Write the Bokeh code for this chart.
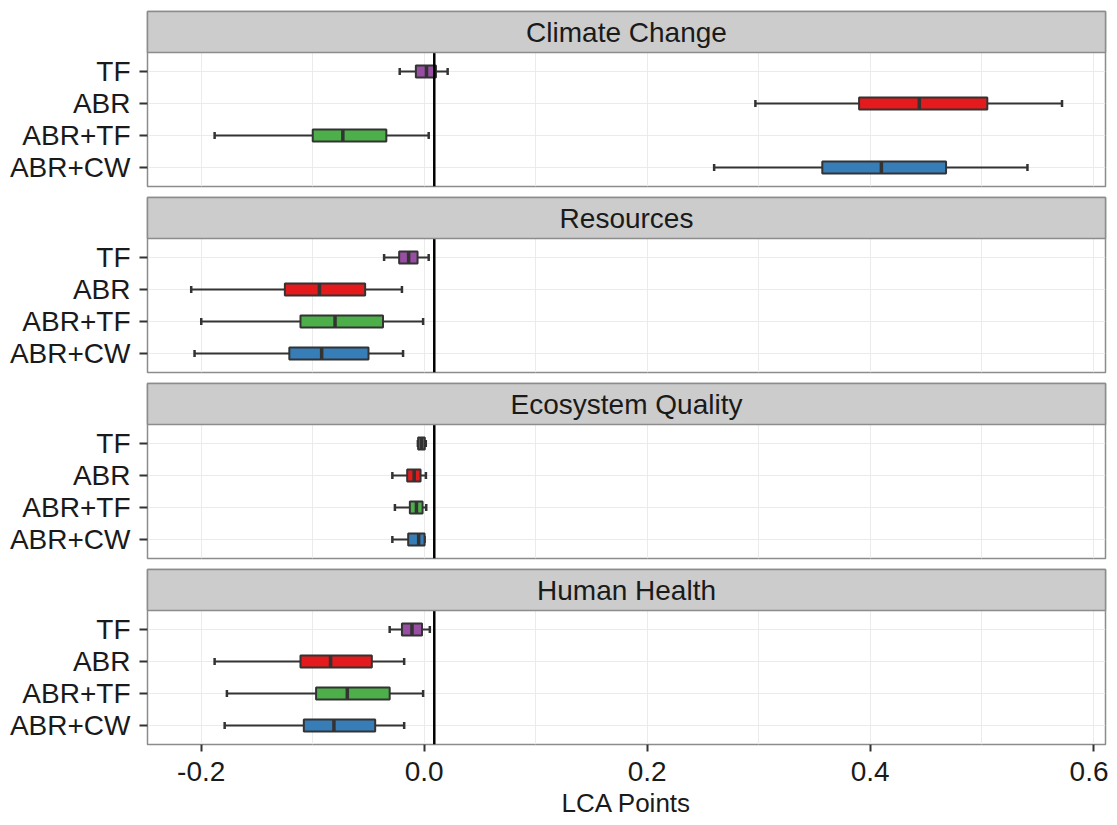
from bokeh.plotting import figure
from bokeh.models import Range1d, FixedTicker, Span, ColumnDataSource
from bokeh.layouts import column
from bokeh.transform import dodge
from bokeh.embed import file_html
from bokeh.resources import INLINE
from bokeh.core.properties import value

# ---------------- data ----------------
treatments = ["TF", "ABR", "ABR+TF", "ABR+CW"]
rows = [3, 2, 1, 0]
colors = ["#984EA3", "#E41A1C", "#4DAF4A", "#377EB8"]
facets = ["Climate Change", "Resources", "Ecosystem Quality", "Human Health"]

cc_lo = [-0.022, 0.297, -0.188, 0.260]
cc_q1 = [-0.0075, 0.390, -0.100, 0.357]
cc_med = [0.002, 0.444, -0.073, 0.410]
cc_q3 = [0.0105, 0.505, -0.034, 0.468]
cc_hi = [0.021, 0.572, 0.004, 0.541]

res_lo = [-0.036, -0.209, -0.200, -0.206]
res_q1 = [-0.0225, -0.125, -0.111, -0.121]
res_med = [-0.014, -0.094, -0.080, -0.092]
res_q3 = [-0.006, -0.053, -0.037, -0.050]
res_hi = [0.004, -0.020, -0.001, -0.019]

eco_lo = [-0.0057, -0.0286, -0.0263, -0.0286]
eco_q1 = [-0.0055, -0.0153, -0.0129, -0.0144]
eco_med = [-0.0025, -0.009, -0.007, -0.005]
eco_q3 = [0.0005, -0.0033, -0.0015, 0.0003]
eco_hi = [0.0014, 0.0015, 0.0018, 0.0003]

hh_lo = [-0.031, -0.188, -0.177, -0.179]
hh_q1 = [-0.020, -0.111, -0.097, -0.108]
hh_med = [-0.011, -0.084, -0.069, -0.081]
hh_q3 = [-0.002, -0.047, -0.031, -0.044]
hh_hi = [0.005, -0.018, -0.001, -0.018]

ref_line = 0.009

x_ticks = [-0.2, 0.0, 0.2, 0.4, 0.6]
x_tick_labels = ["-0.2", "0.0", "0.2", "0.4", "0.6"]
x_minor = [-0.1, 0.1, 0.3, 0.5]
x_title = "LCA Points"

facet_stats = [
    (cc_lo, cc_q1, cc_med, cc_q3, cc_hi),
    (res_lo, res_q1, res_med, res_q3, res_hi),
    (eco_lo, eco_q1, eco_med, eco_q3, eco_hi),
    (hh_lo, hh_q1, hh_med, hh_q3, hh_hi),
]

# ---------------- layout / style ----------------
FONT = "Liberation Sans"
XMIN, XMAX = -0.2482, 0.6110
W = 1108
LEFT, RIGHT = 147, 3
FRAME_H = 175
GAP_B = 8
GAP_T = 3
FIRST_T = 11
AXIS_B = 78
ROW_PX = 32.0
STRIP_PX = 41.0
PANEL_UNITS = (FRAME_H - STRIP_PX) / ROW_PX
Y_BOT = 1.5 - PANEL_UNITS / 2.0
PANEL_TOP = 1.5 + PANEL_UNITS / 2.0
Y_TOP = Y_BOT + FRAME_H / ROW_PX
BORDER = "#8C8C8C"
GRID = "#EBEBEB"
DARK = "#333333"
TXT = "#1A1A1A"
BOX_H = 12.0 / ROW_PX
CAP_H = 7.0 / ROW_PX

figs = []
for i, (name, stats) in enumerate(zip(facets, facet_stats)):
    last = i == len(facets) - 1
    bottom = AXIS_B if last else GAP_B
    top = FIRST_T if i == 0 else GAP_T
    p = figure(width=W, height=top + FRAME_H + bottom,
               x_range=Range1d(XMIN, XMAX), y_range=Range1d(Y_BOT, Y_TOP),
               output_backend="svg", toolbar_location=None,
               min_border_left=LEFT, min_border_right=RIGHT,
               min_border_top=top, min_border_bottom=bottom)
    p.background_fill_color = "white"
    p.border_fill_color = "white"
    p.outline_line_color = BORDER
    p.outline_line_width = 1.5

    lo, q1, med, q3, hi = stats
    src = ColumnDataSource(dict(y=rows, lo=lo, q1=q1, med=med, q3=q3, hi=hi, color=colors))

    # whiskers
    p.segment(x0="lo", y0="y", x1="hi", y1="y", source=src, line_color=DARK, line_width=2)
    p.segment(x0="lo", x1="lo", y0=dodge("y", -CAP_H / 2), y1=dodge("y", CAP_H / 2),
              source=src, line_color=DARK, line_width=2.5)
    p.segment(x0="hi", x1="hi", y0=dodge("y", -CAP_H / 2), y1=dodge("y", CAP_H / 2),
              source=src, line_color=DARK, line_width=2.5)
    # boxes
    p.hbar(y="y", left="q1", right="q3", height=BOX_H, source=src,
           fill_color="color", line_color=DARK, line_width=2)
    # medians
    p.segment(x0="med", x1="med", y0=dodge("y", -BOX_H / 2), y1=dodge("y", BOX_H / 2),
              source=src, line_color=DARK, line_width=3.5)

    p.add_layout(Span(location=ref_line, dimension="height", line_color="black", line_width=2.5))

    # strip header
    p.quad(left=XMIN, right=XMAX, bottom=PANEL_TOP, top=Y_TOP,
           fill_color="#CCCCCC", line_color=BORDER, line_width=1.5, level="overlay")
    p.text(x=[(XMIN + XMAX) / 2], y=[(PANEL_TOP + Y_TOP) / 2], text=[name],
           text_align="center", text_baseline="middle",
           text_font=value(FONT), text_font_size="28px", text_color=TXT,
           level="overlay")

    # grids
    p.xgrid.ticker = FixedTicker(ticks=x_ticks, minor_ticks=x_minor)
    p.xgrid.grid_line_color = GRID
    p.xgrid.minor_grid_line_color = GRID
    p.ygrid.ticker = FixedTicker(ticks=rows)
    p.ygrid.grid_line_color = GRID

    # y axis
    yax = p.yaxis[0]
    yax.ticker = FixedTicker(ticks=rows)
    yax.major_label_overrides = {r: t for r, t in zip(rows, treatments)}
    yax.axis_line_color = None
    yax.major_tick_line_color = DARK
    yax.major_tick_line_width = 2
    yax.major_tick_out = 8
    yax.major_tick_in = 0
    yax.minor_tick_line_color = None
    yax.major_label_standoff = 9
    yax.major_label_text_font = FONT
    yax.major_label_text_font_size = "28px"
    yax.major_label_text_color = TXT

    xax = p.xaxis[0]
    if last:
        xax.ticker = FixedTicker(ticks=x_ticks)
        xax.major_label_overrides = {t: l for t, l in zip(x_ticks, x_tick_labels)}
        xax.axis_line_color = None
        xax.major_tick_line_color = DARK
        xax.major_tick_line_width = 2
        xax.major_tick_out = 7
        xax.major_tick_in = 0
        xax.minor_tick_line_color = None
        xax.major_label_standoff = 10
        xax.major_label_text_font = FONT
        xax.major_label_text_font_size = "28px"
        xax.major_label_text_color = TXT
        xax.axis_label = x_title
        xax.axis_label_standoff = 4
        xax.axis_label_text_font = FONT
        xax.axis_label_text_font_size = "26px"
        xax.axis_label_text_font_style = "normal"
        xax.axis_label_text_color = TXT
    else:
        xax.visible = False
    figs.append(p)

layout = column(*figs, spacing=0)
open("out.html", "w").write(file_html(layout, INLINE))
